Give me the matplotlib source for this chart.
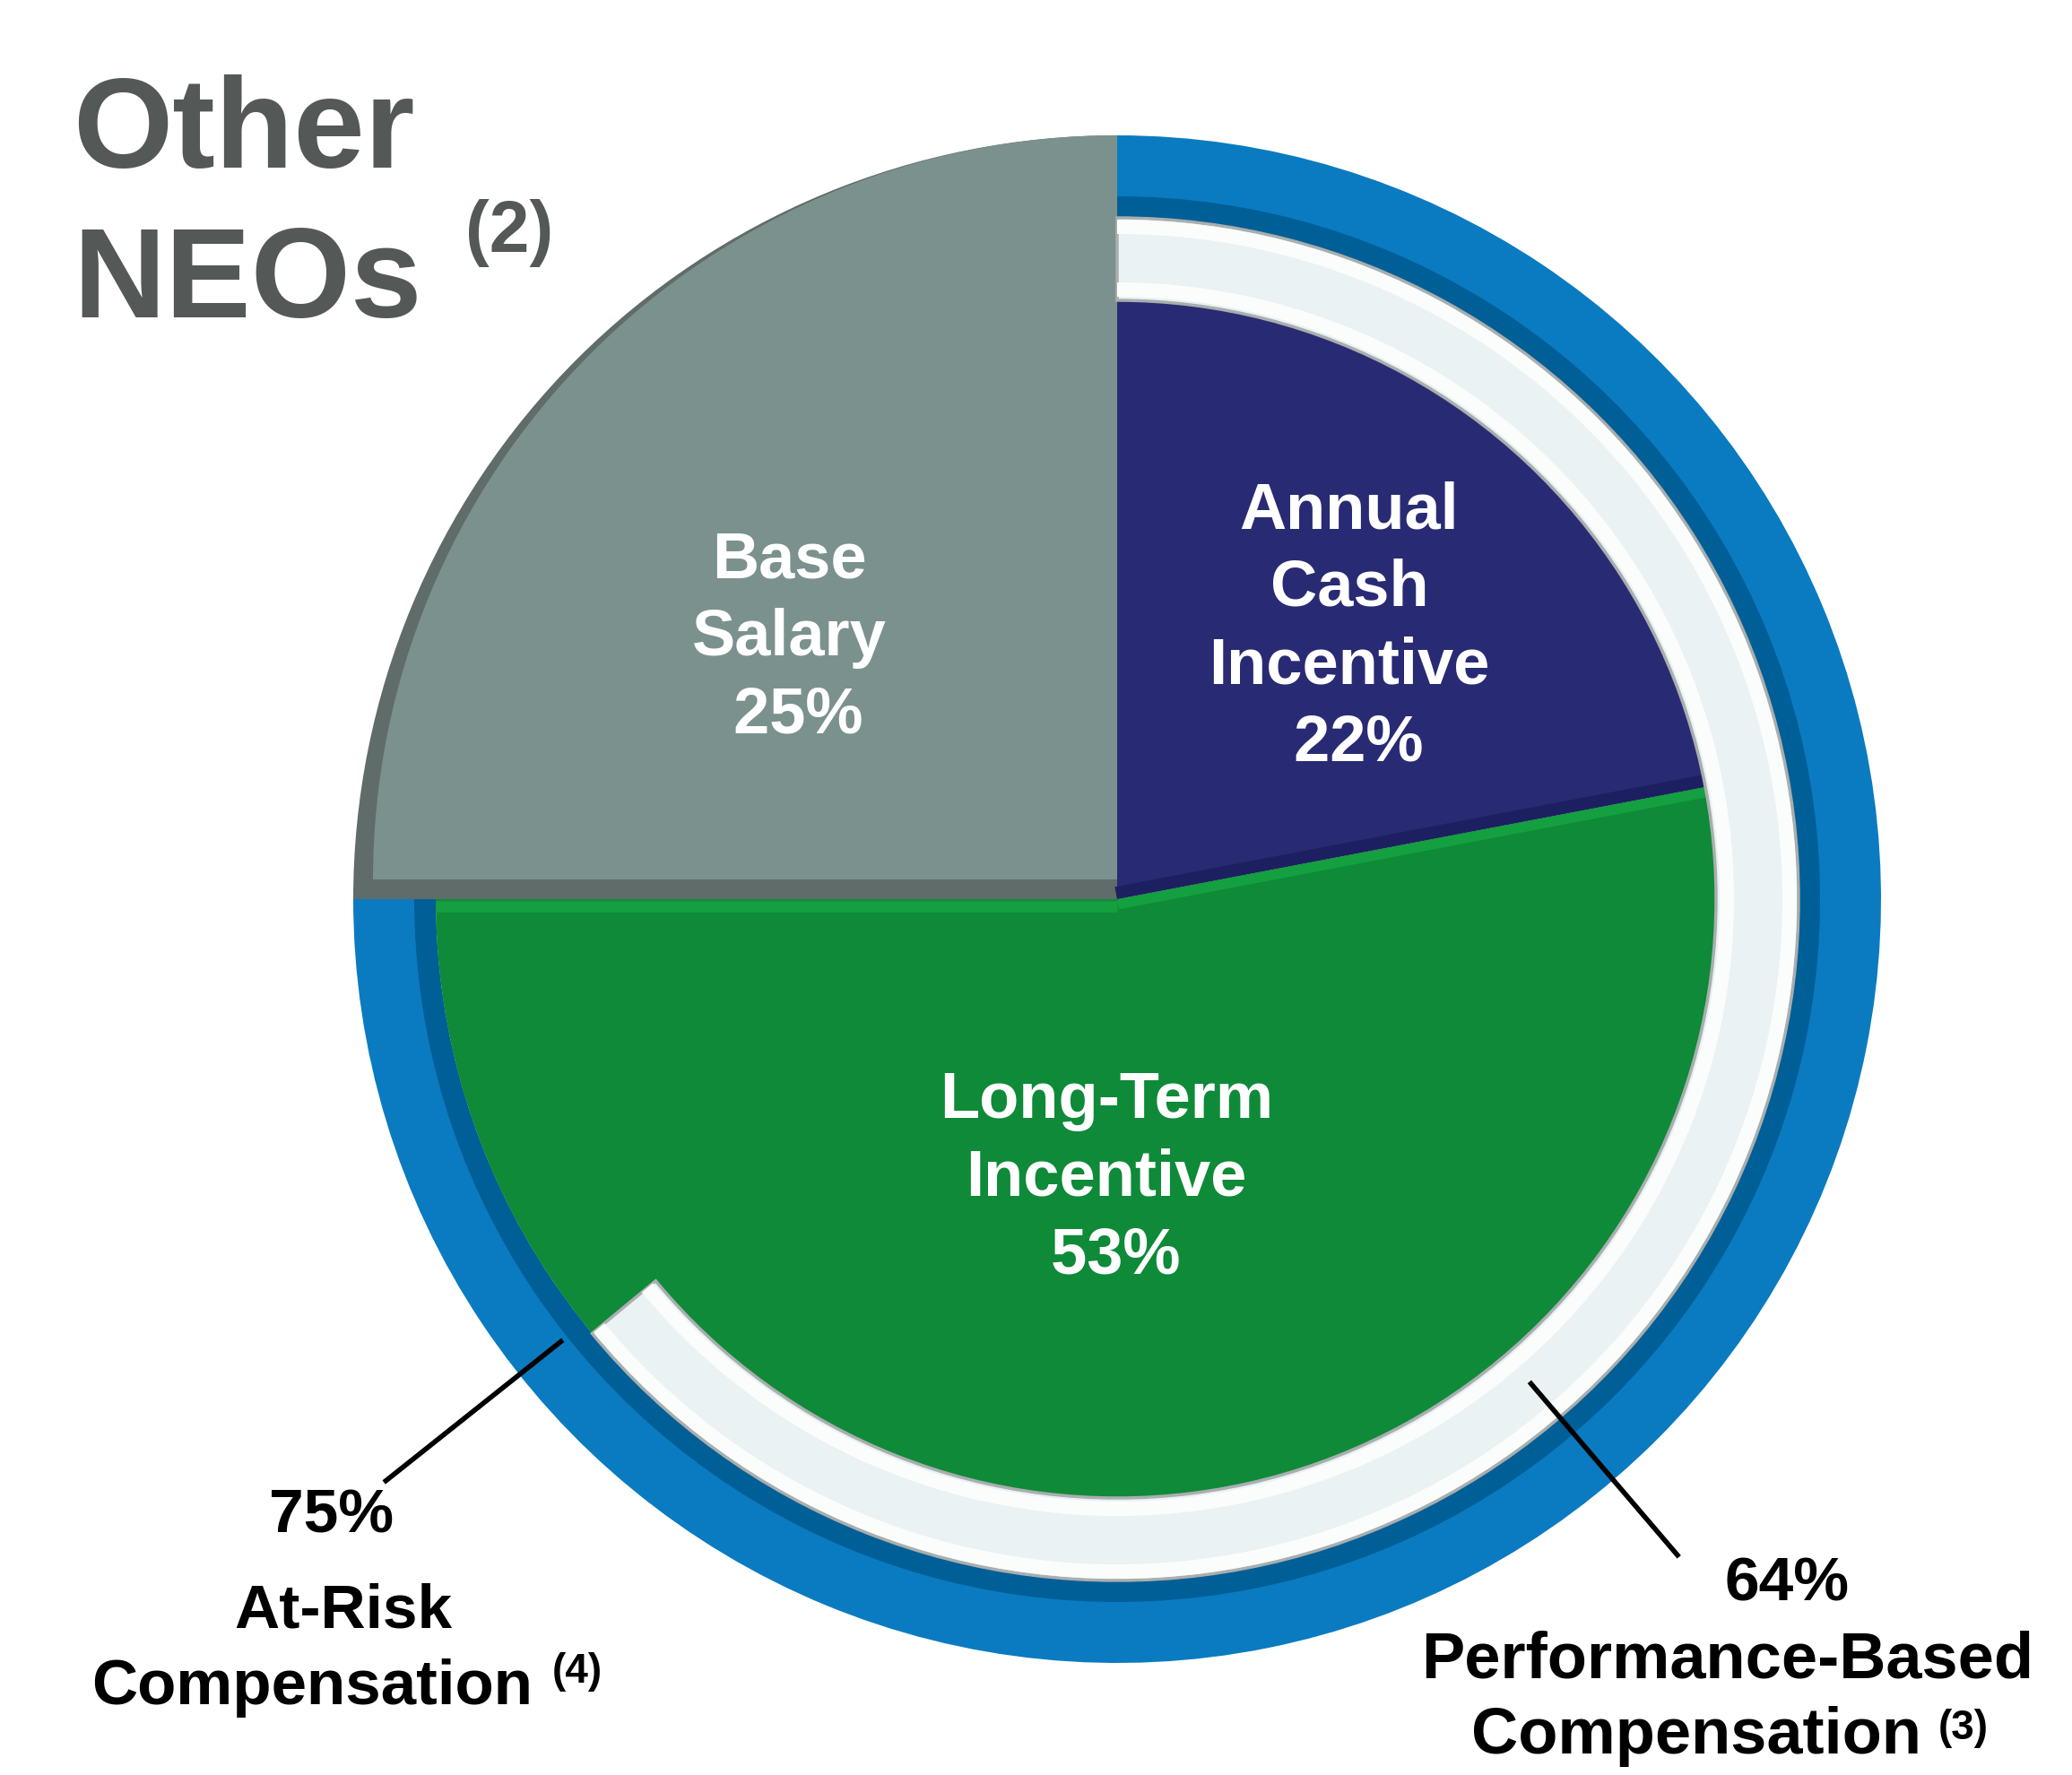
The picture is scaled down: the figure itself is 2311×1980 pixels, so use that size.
import numpy as np
import matplotlib.pyplot as plt

# pay mix for the other NEOs (percent of target pay)
components = ['Annual\nCash\nIncentive', 'Long-Term\nIncentive', 'Base\nSalary']
shares = [22, 53, 25]
at_risk = 75        # outer ring
perf_based = 64     # inner ring

# colours
NAVY = '#282b73'
NAVY_DARK = '#1d2060'
GREEN = '#0e8a38'
GREEN_LIGHT = '#14a040'
GRAY = '#7b918d'
GRAY_DARK = '#5f6c69'
BLUE = '#0a7bc1'
BLUE_DARK = '#005f97'
RING_WHITE = '#eaf2f3'
TITLE_GRAY = '#545957'

# radii in pixels (axes units are pixels, pie centre at 0,0)
R_OUT = 852
R_MID = 760
R_IN = 668

plt.rcParams['font.family'] = ['Liberation Sans', 'DejaVu Sans']
plt.rcParams['font.weight'] = 'bold'

fig = plt.figure(figsize=(23.11, 19.80), dpi=100)
fig.patch.set_facecolor('white')
ax = fig.add_axes([0, 0, 1, 1])

pie_kw = dict(startangle=90, counterclock=False)


def ring(values, radius, colors, width=None, center=(0, 0), **wp):
    wp.setdefault('linewidth', 0)
    if width is not None:
        wp['width'] = width
    wedges, _ = ax.pie(values, radius=radius, colors=colors, center=center,
                       wedgeprops=wp, **pie_kw)
    for w, c in zip(wedges, colors):
        if c == 'none':
            w.set_visible(False)
    return wedges


# outer "at-risk" ring
ring([at_risk, 100 - at_risk], R_OUT, [BLUE, 'none'], width=R_OUT - R_MID)
ring([at_risk, 100 - at_risk], R_MID + 24, [BLUE_DARK, 'none'], width=24)

# base salary sits out to the full radius (dark bevel + face)
ring([100 - shares[2], shares[2]], R_OUT, ['none', GRAY_DARK])
ring([100 - shares[2], shares[2]], R_OUT - 22, ['none', GRAY], center=(0, 22))

# at-risk components
ring(shares, R_MID, [NAVY, GREEN, 'none'])

# bevel strips on the slice edges (kept under the inner ring)
ang = np.deg2rad(90 - 360 * shares[0] / 100)
ux, uy = np.cos(ang), np.sin(ang)
nx, ny = -uy, ux
ax.plot([7 * nx, R_IN * ux + 7 * nx], [7 * ny, R_IN * uy + 7 * ny],
        color=NAVY_DARK, lw=10, solid_capstyle='butt', zorder=1)
ax.plot([-6 * nx, R_IN * ux - 6 * nx], [-6 * ny, R_IN * uy - 6 * ny],
        color=GREEN_LIGHT, lw=8, solid_capstyle='butt', zorder=1)
ax.plot([-R_MID, 0], [-8, -8], color=GREEN_LIGHT, lw=9, solid_capstyle='butt', zorder=1)

# inner "performance-based" ring
ring([perf_based, 100 - perf_based], R_MID, [RING_WHITE, 'none'], width=R_MID - R_IN,
     linewidth=2.5, edgecolor='#a9aeae')
ring([perf_based, 100 - perf_based], R_MID - 2, ['#fbfdfd', 'none'], width=16)
ring([perf_based, 100 - perf_based], R_IN + 20, ['#fbfdfd', 'none'], width=16)

# slice labels
label_pos = [(259, 303), (-12, -312), (-366, 291)]
for name, v, (x, y) in zip(components, shares, label_pos):
    ax.text(x, y, f'{name}\n {v}%', ha='center', va='center', color='white',
            fontsize=52, fontweight='bold', linespacing=1.35, multialignment='center')

# title
ax.text(-1165, 816, 'Other', ha='left', va='baseline', color=TITLE_GRAY,
        fontsize=103, fontweight='bold')
ax.text(-1165, 649, 'NEOs', ha='left', va='baseline', color=TITLE_GRAY,
        fontsize=103, fontweight='bold')
ax.text(-727, 743, '(2)', ha='left', va='center', color=TITLE_GRAY,
        fontsize=58, fontweight='bold')

# leader lines (angle in degrees, start radius, end radius)
leaders = [(218.5, 790, 1045), (-49.5, 708, 965)]
for a_deg, r0, r1 in leaders:
    a = np.deg2rad(a_deg)
    ax.plot([r0 * np.cos(a), r1 * np.cos(a)], [r0 * np.sin(a), r1 * np.sin(a)],
            color='black', lw=4, solid_capstyle='butt')

# ring callouts
ax.text(-876, -707, f'{at_risk}%', ha='center', va='baseline', fontsize=50, fontweight='bold')
ax.text(-863, -813, 'At-Risk', ha='center', va='baseline', fontsize=50, fontweight='bold')
ax.text(-898, -898, 'Compensation', ha='center', va='baseline', fontsize=51, fontweight='bold')
ax.text(-630, -862, '(4)', ha='left', va='center', fontsize=33, fontweight='bold')

ax.text(747, -783, f'{perf_based}%', ha='center', va='baseline', fontsize=50, fontweight='bold')
ax.text(681, -869, 'Performance-Based', ha='center', va='baseline', fontsize=52, fontweight='bold')
ax.text(646, -953, 'Compensation', ha='center', va='baseline', fontsize=52, fontweight='bold')
ax.text(916, -925, '(3)', ha='left', va='center', fontsize=33, fontweight='bold')

ax.set_xlim(-1246, 1065)
ax.set_ylim(-977, 1003)
ax.set_aspect('equal')
ax.axis('off')

fig.savefig('out.png', dpi=100)
